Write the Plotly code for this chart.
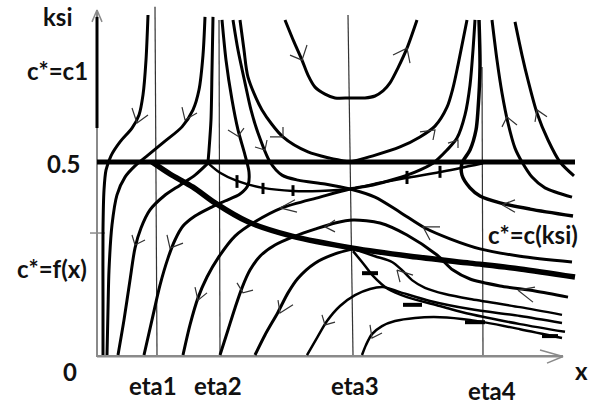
import plotly.graph_objects as go

# ---------------------------------------------------------------------------
# Phase portrait in the (x, ksi) plane.  Every trajectory is a list of
# x positions and matching ksi values.
# ---------------------------------------------------------------------------
traj_a_x = [0.48, 0.46, 0.43, 0.39, 0.32, 0.20, 0.11, 0.06, 0.04, 0.03, 0.03, 0.03]
traj_a_k = [0.881, 0.764, 0.674, 0.622, 0.588, 0.552, 0.516, 0.479, 0.427, 0.324, 0.142, 0.0]

traj_b_x = [1.05, 1.03, 0.99, 0.93, 0.82, 0.65, 0.48, 0.35, 0.25, 0.17, 0.12, 0.09, 0.08, 0.07]
traj_b_k = [0.876, 0.777, 0.687, 0.635, 0.591, 0.554, 0.518, 0.490, 0.461, 0.415, 0.337, 0.220, 0.117, 0.0]

traj_c_x = [1.13, 1.12, 1.11, 1.09, 1.08]
traj_c_k = [0.876, 0.738, 0.609, 0.531, 0.500]

traj_d1_x = [1.08, 0.95, 0.80, 0.64, 0.50, 0.41, 0.35, 0.30, 0.24, 0.18]
traj_d1_k = [0.497, 0.466, 0.440, 0.412, 0.376, 0.329, 0.277, 0.194, 0.091, 0.0]

shock_x = [1.08, 1.20, 1.37, 1.63, 1.93, 2.20, 2.50, 2.80, 3.07, 3.40, 3.83]
shock_k = [0.497, 0.472, 0.451, 0.433, 0.425, 0.425, 0.430, 0.446, 0.459, 0.474, 0.497]

traj_c2_x = [1.22, 1.26, 1.32, 1.38, 1.45, 1.49, 1.48, 1.40, 1.25, 1.10, 0.95, 0.83, 0.75, 0.68, 0.60, 0.52, 0.44]
traj_c2_k = [0.868, 0.764, 0.661, 0.583, 0.518, 0.474, 0.440, 0.417, 0.399, 0.381, 0.360, 0.334, 0.298, 0.251, 0.181, 0.091, 0.0]

traj_c3_x = [1.33, 1.38, 1.45, 1.51, 1.58, 1.70, 1.82, 1.98, 2.25, 2.50, 2.75, 3.00, 3.25, 3.50, 3.80, 4.20, 4.72]
traj_c3_k = [0.868, 0.790, 0.705, 0.635, 0.575, 0.500, 0.466, 0.453, 0.443, 0.430, 0.409, 0.370, 0.329, 0.301, 0.275, 0.256, 0.241]

traj_c4_x = [1.40, 1.44, 1.48, 1.62, 1.83, 2.08, 2.30, 2.50]
traj_c4_k = [0.868, 0.790, 0.720, 0.635, 0.565, 0.526, 0.510, 0.500]

bowl_x = [1.85, 1.94, 2.02, 2.08, 2.15, 2.25, 2.35, 2.50, 2.65, 2.75, 2.83, 2.90, 2.98, 3.07, 3.17]
bowl_k = [0.868, 0.811, 0.764, 0.725, 0.694, 0.676, 0.666, 0.666, 0.666, 0.671, 0.684, 0.705, 0.744, 0.795, 0.868]

traj_c5_x = [2.50, 2.73, 3.00, 3.20, 3.35, 3.47, 3.53, 3.58, 3.67]
traj_c5_k = [0.500, 0.516, 0.539, 0.565, 0.593, 0.642, 0.692, 0.751, 0.868]

traj_l1_x = [0.83, 0.90, 0.98, 1.07, 1.18, 1.35, 1.55, 1.82, 2.20, 2.50, 2.72, 2.95, 3.15, 3.33,
             3.47, 3.57, 3.65, 3.70, 3.73, 3.75]
traj_l1_k = [0.0, 0.078, 0.148, 0.202, 0.251, 0.308, 0.345, 0.381, 0.409, 0.430, 0.440, 0.456, 0.474, 0.497,
             0.531, 0.562, 0.622, 0.699, 0.790, 0.868]

traj_c6_x = [3.79, 3.80, 3.78, 3.76, 3.70, 3.62, 3.62, 3.70, 3.80, 4.00, 4.30, 4.73]
traj_c6_k = [0.868, 0.746, 0.635, 0.583, 0.531, 0.497, 0.466, 0.433, 0.412, 0.394, 0.378, 0.360]

traj_c7_x = [3.92, 3.97, 4.02, 4.08, 4.15, 4.22, 4.32, 4.45, 4.72]
traj_c7_k = [0.868, 0.764, 0.679, 0.601, 0.536, 0.500, 0.461, 0.433, 0.409]

traj_c8_x = [4.15, 4.22, 4.28, 4.37, 4.48, 4.60, 4.74]
traj_c8_k = [0.863, 0.777, 0.712, 0.627, 0.557, 0.500, 0.464]

traj_f220_x = [1.20, 1.28, 1.35, 1.42, 1.50, 1.60, 1.75, 1.95, 2.15, 2.35, 2.53, 2.80, 3.07, 3.37, 3.53,
               3.70, 4.00, 4.35, 4.68]
traj_f220_k = [0.0, 0.065, 0.122, 0.174, 0.220, 0.256, 0.285, 0.308, 0.326, 0.342, 0.350, 0.342, 0.311,
               0.259, 0.220, 0.197, 0.179, 0.166, 0.150]

traj_f255_x = [1.55, 1.65, 1.78, 1.88, 1.98, 2.15, 2.35, 2.53]
traj_f255_k = [0.0, 0.052, 0.111, 0.161, 0.199, 0.238, 0.262, 0.275]

traj_na_x = [2.53, 2.75, 2.92, 3.02, 3.12, 3.25, 3.45, 3.70, 4.20, 4.62]
traj_na_k = [0.275, 0.256, 0.241, 0.220, 0.194, 0.174, 0.158, 0.145, 0.124, 0.104]

traj_nb_x = [2.53, 2.62, 2.73, 2.88, 3.07, 3.40, 3.70, 4.20, 4.65]
traj_nb_k = [0.269, 0.241, 0.205, 0.171, 0.150, 0.127, 0.106, 0.080, 0.060]

traj_d_x = [2.07, 2.18, 2.27, 2.40, 2.55, 2.70, 2.83, 3.00, 3.30, 3.70, 4.20, 4.62]
traj_d_k = [0.0, 0.049, 0.088, 0.127, 0.155, 0.171, 0.176, 0.163, 0.140, 0.119, 0.101, 0.083]

traj_e_x = [2.62, 2.66, 2.72, 2.82, 2.95, 3.15, 3.40, 3.70, 4.20, 4.62]
traj_e_k = [0.0, 0.026, 0.054, 0.075, 0.088, 0.096, 0.098, 0.091, 0.067, 0.044]

# equilibrium curve c* = f(x)
curve_fx_x = [0.52, 0.70, 0.93, 1.15, 1.48, 1.92, 2.53, 3.10, 3.70, 4.20, 4.75]
curve_fx_k = [0.500, 0.469, 0.435, 0.394, 0.345, 0.308, 0.277, 0.256, 0.238, 0.223, 0.202]

# level ksi = 0.5
half_level = 0.5
half_x = [-0.03, 4.75]

# eta lines: x at top, x at bottom, ksi at top
eta_x_top = [0.55, 1.19, 2.48, 3.82]
eta_x_bot = [0.57, 1.20, 2.53, 3.83]
eta_k_top = [0.902, 0.868, 0.881, 0.746]

# flow-direction marks: tail 1, tip, tail 2
arrow_tip_x = [0.37, 0.85, 1.38, 1.65, 1.83, 2.02, 3.07, 3.35, 3.58, 4.07, 4.37, 4.02, 3.23, 2.25,
               1.80, 1.80, 1.43, 2.25, 0.98, 0.70, 0.35, 2.72, 2.97, 4.18]
arrow_tip_k = [0.601, 0.609, 0.567, 0.531, 0.565, 0.764, 0.795, 0.583, 0.557, 0.617, 0.635, 0.389,
               0.332, 0.332, 0.381, 0.109, 0.161, 0.078, 0.142, 0.277, 0.285, 0.044, 0.220, 0.168]
arrow_t1_x = [0.32, 0.82, 1.28, 1.55, 1.70, 1.90, 2.93, 3.20, 3.48, 4.02, 4.35, 4.15, 3.40, 2.35,
              1.95, 1.78, 1.37, 2.22, 0.95, 0.67, 0.32, 2.70, 3.00, 4.35]
arrow_t1_k = [0.640, 0.642, 0.583, 0.539, 0.565, 0.777, 0.777, 0.578, 0.549, 0.591, 0.604, 0.402,
              0.332, 0.350, 0.402, 0.142, 0.187, 0.104, 0.176, 0.311, 0.311, 0.078, 0.189, 0.176]
arrow_t2_x = [0.48, 0.97, 1.44, 1.67, 1.83, 2.07, 3.10, 3.33, 3.58, 4.17, 4.47, 4.15, 3.30, 2.35,
              1.97, 1.93, 1.53, 2.35, 1.07, 0.83, 0.45, 2.82, 3.13, 4.33]
arrow_t2_k = [0.622, 0.627, 0.588, 0.557, 0.591, 0.803, 0.756, 0.557, 0.536, 0.596, 0.617, 0.370,
              0.298, 0.319, 0.370, 0.130, 0.168, 0.085, 0.161, 0.290, 0.298, 0.057, 0.207, 0.137]

# cross ticks on the shock curve
tick_x = [1.37, 1.63, 1.93, 3.07, 3.40]
tick_k_hi = [0.466, 0.446, 0.440, 0.477, 0.490]
tick_k_lo = [0.433, 0.417, 0.412, 0.443, 0.459]

# short bold dashes on the lower trajectories
dash_x0 = [2.62, 3.03, 3.65, 4.42]
dash_x1 = [2.78, 3.22, 3.85, 4.58]
dash_k = [0.212, 0.130, 0.085, 0.049]

# texts
axis_texts = ["ksi", "c*=c1", "0.5", "c*=f(x)", "0", "x"]
eta_texts = ["eta1", "eta2", "eta3", "eta4"]
curve_text = "c*=c(ksi)"

# ---------------------------------------------------------------------------
fig = go.Figure()
INK = "#000000"
GREY = "#8a8a8a"


def add_line(xs, ks, width, color=INK, smooth=True):
    fig.add_trace(go.Scatter(
        x=xs, y=ks, mode="lines", hoverinfo="skip", showlegend=False,
        line=dict(color=color, width=width, shape="spline" if smooth else "linear",
                  smoothing=0.8),
    ))


def add_segments(xs, ks, width, color=INK):
    fig.add_trace(go.Scatter(
        x=xs, y=ks, mode="lines", hoverinfo="skip", showlegend=False,
        line=dict(color=color, width=width),
    ))


# axes drawn by hand
add_segments([-0.03, -0.03], [-0.005, 0.894], 2, GREY)
add_segments([-0.08, -0.03, 0.02], [0.863, 0.894, 0.863], 1.5, GREY)
add_segments([-0.03, -0.03], [0.588, 0.876], 3, INK)
add_segments([-0.03, 4.63], [-0.003, -0.003], 2.5, GREY)
add_segments([4.40, 4.63, 4.47], [0.013, -0.004, -0.021], 1.5, GREY)
add_segments([-0.10, 0.05], [0.316, 0.316], 1.5, GREY)

# eta lines
ex, ek = [], []
for xt, xb, kt in zip(eta_x_top, eta_x_bot, eta_k_top):
    ex += [xt, xb, None]
    ek += [kt, 0.0, None]
add_segments(ex, ek, 1.2, "#333333")

# trajectories
upper = [
    (traj_a_x, traj_a_k), (traj_b_x, traj_b_k), (traj_c_x, traj_c_k), (traj_d1_x, traj_d1_k),
    (traj_c2_x, traj_c2_k), (traj_c3_x, traj_c3_k), (traj_c4_x, traj_c4_k), (bowl_x, bowl_k),
    (traj_c5_x, traj_c5_k), (traj_l1_x, traj_l1_k), (traj_c7_x, traj_c7_k), (traj_c8_x, traj_c8_k),
    (traj_f220_x, traj_f220_k), (traj_f255_x, traj_f255_k),
]
for xs, ks in upper:
    add_line(xs, ks, 3)
add_line(traj_c6_x, traj_c6_k, 3.5)
for xs, ks in [(traj_na_x, traj_na_k), (traj_nb_x, traj_nb_k), (traj_d_x, traj_d_k), (traj_e_x, traj_e_k)]:
    add_line(xs, ks, 2.5)
add_line(shock_x, shock_k, 2.5)

# bold curves
add_line(curve_fx_x, curve_fx_k, 5.5)
add_segments(half_x, [half_level, half_level], 5)

# ticks, dashes, arrows
tx, tk = [], []
for x, hi, lo in zip(tick_x, tick_k_hi, tick_k_lo):
    tx += [x, x, None]
    tk += [hi, lo, None]
add_segments(tx, tk, 3)

dx, dk = [], []
for x0, x1, k in zip(dash_x0, dash_x1, dash_k):
    dx += [x0, x1, None]
    dk += [k, k, None]
add_segments(dx, dk, 4)

ax, ak = [], []
for a1x, a1k, tpx, tpk, a2x, a2k in zip(arrow_t1_x, arrow_t1_k, arrow_tip_x, arrow_tip_k,
                                        arrow_t2_x, arrow_t2_k):
    ax += [a1x, tpx, a2x, None]
    ak += [a1k, tpk, a2k, None]
add_segments(ax, ak, 1.2, "#333333")

# labels
label_font = dict(family="Lato", size=24, color="#111111")
axis_pos_x = [-0.43, -0.43, -0.36, -0.48, -0.30, 4.81]
axis_pos_k = [0.878, 0.736, 0.495, 0.225, -0.044, -0.039]
for t, x, k in zip(axis_texts, axis_pos_x, axis_pos_k):
    fig.add_annotation(x=x, y=k, text=f"<b>{t}</b>", showarrow=False, font=label_font,
                       xanchor="center", yanchor="middle")
eta_pos_x = [0.53, 1.18, 2.55, 3.92]
eta_pos_k = [-0.078, -0.080, -0.080, -0.091]
for t, x, k in zip(eta_texts, eta_pos_x, eta_pos_k):
    fig.add_annotation(x=x, y=k, text=f"<b>{t}</b>", showarrow=False, font=label_font,
                       xanchor="center", yanchor="middle")
fig.add_annotation(x=4.33, y=0.313, text=f"<b>{curve_text}</b>", showarrow=False,
                   font=label_font, xanchor="center", yanchor="middle")

fig.update_xaxes(range=[-1.0, 4.99], visible=False, fixedrange=True)
fig.update_yaxes(range=[-0.1321, 0.9197], visible=False, fixedrange=True)
fig.update_layout(
    width=599, height=406, margin=dict(l=0, r=0, t=0, b=0),
    paper_bgcolor="white", plot_bgcolor="white", showlegend=False,
)

fig.write_html("out.html")
